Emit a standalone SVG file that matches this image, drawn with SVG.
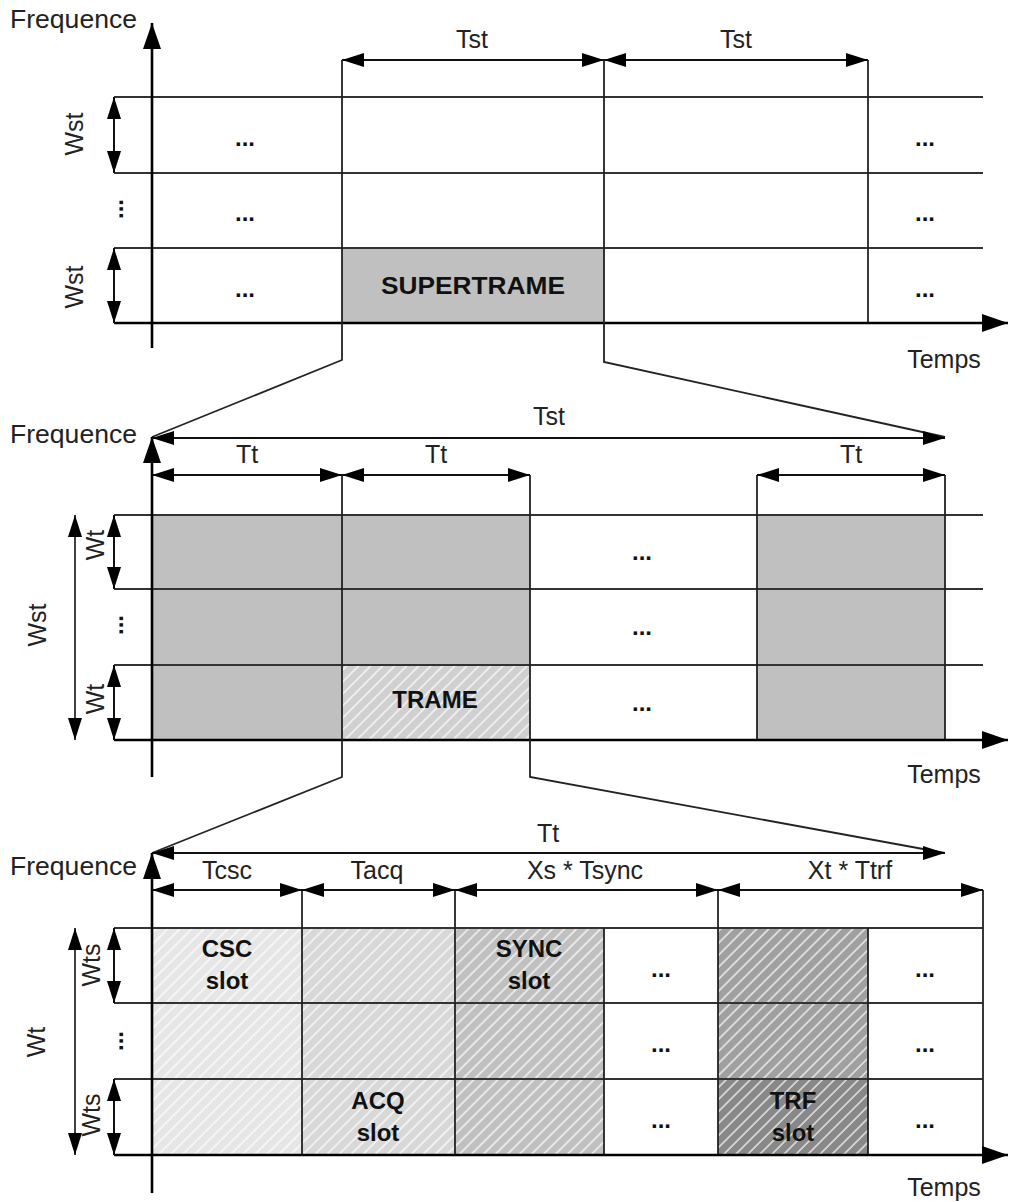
<svg xmlns="http://www.w3.org/2000/svg" width="1010" height="1202" viewBox="0 0 1010 1202">
<style>
  text { font-family: "Liberation Sans", Arial, sans-serif; fill: #222; }
  .lbl { font-size: 25px; }
  .mid { text-anchor: middle; }
  .b { font-size: 24px; font-weight: bold; fill: #111; text-anchor: middle; }
  .dots { font-size: 24px; font-weight: bold; fill: #111; text-anchor: middle; }
  .grid { stroke: #333; stroke-width: 2; fill: none; }
  .axis { stroke: #000; stroke-width: 2.6; fill: none; marker-end: url(#axhead); }
  .vl { stroke: #222; stroke-width: 1.8; fill: none; }
  .dim { stroke: #111; stroke-width: 2; fill: none; marker-start: url(#ah); marker-end: url(#ah); }
  .dimthin { stroke: #111; stroke-width: 1.6; fill: none; marker-start: url(#ah); marker-end: url(#ah); }
</style>
<defs>
  <marker id="ah" viewBox="0 0 22 14" refX="22" refY="7" markerWidth="22" markerHeight="14" markerUnits="userSpaceOnUse" orient="auto-start-reverse">
    <path d="M0,0 L22,7 L0,14 Z" fill="#000"/>
  </marker>
  <marker id="axhead" viewBox="0 0 26 18" refX="26" refY="9" markerWidth="26" markerHeight="18" markerUnits="userSpaceOnUse" orient="auto">
    <path d="M0,0 L26,9 L0,18 Z" fill="#000"/>
  </marker>
  <pattern id="hatch" patternUnits="userSpaceOnUse" width="8.5" height="8.5" patternTransform="rotate(45)">
    <line x1="2" y1="0" x2="2" y2="8.5" stroke="#fff" stroke-width="1.6" stroke-opacity="0.75"/>
  </pattern>
</defs>
<rect width="1010" height="1202" fill="#fff"/>

<!-- ===== Level 1 : supertrames ===== -->
<g id="supertrames">
  <g id="supertrame-cell">
    <rect x="342" y="248" width="262" height="75" fill="#c0c0c0"/>
    <text class="b" x="473" y="294" font-size="25" textLength="184" lengthAdjust="spacingAndGlyphs">SUPERTRAME</text>
  </g>
  <g id="grid-1">
    <line class="grid" x1="114" y1="97" x2="983" y2="97"/>
    <line class="grid" x1="114" y1="173" x2="983" y2="173"/>
    <line class="grid" x1="114" y1="248" x2="983" y2="248"/>
    <line class="vl" x1="868" y1="60" x2="868" y2="323"/>
  </g>
  <g id="dots-1">
    <text class="dots" x="245" y="146">...</text>
    <text class="dots" x="245" y="221">...</text>
    <text class="dots" x="245" y="297">...</text>
    <text class="dots" x="925" y="146">...</text>
    <text class="dots" x="925" y="221">...</text>
    <text class="dots" x="925" y="297">...</text>
    <text class="dots" transform="translate(123,209) rotate(-90)">...</text>
  </g>
  <g id="axes-1">
    <line class="axis" x1="152" y1="348" x2="152" y2="23"/>
    <line class="axis" x1="114" y1="323" x2="1008" y2="323"/>
    <text class="lbl" x="10" y="28" textLength="127" lengthAdjust="spacingAndGlyphs">Frequence</text>
    <text class="lbl mid" x="944" y="368">Temps</text>
  </g>
  <g id="labels-1">
    <text class="lbl mid" x="472" y="48">Tst</text>
    <text class="lbl mid" x="736" y="48">Tst</text>
    <text class="lbl mid" transform="translate(83,134) rotate(-90)">Wst</text>
    <text class="lbl mid" transform="translate(83,287) rotate(-90)">Wst</text>
  </g>
</g>

<!-- ===== Level 2 : trames ===== -->
<g id="trames">
  <g id="trame-fills">
    <rect x="152" y="515" width="378" height="225" fill="#c0c0c0"/>
    <rect x="757" y="515" width="188" height="225" fill="#c0c0c0"/>
  </g>
  <g id="trame-cell">
    <rect x="342" y="665" width="188" height="75" fill="#d0d0d0"/>
    <rect x="342" y="665" width="188" height="75" fill="url(#hatch)"/>
    <text class="b" x="435" y="708" font-size="25">TRAME</text>
  </g>
  <g id="grid-2">
    <line class="grid" x1="114" y1="515" x2="983" y2="515"/>
    <line class="grid" x1="114" y1="589" x2="983" y2="589"/>
    <line class="grid" x1="114" y1="665" x2="983" y2="665"/>
    <line class="vl" x1="757" y1="475" x2="757" y2="740"/>
    <line class="vl" x1="945" y1="475" x2="945" y2="740"/>
  </g>
  <g id="dots-2">
    <text class="dots" x="642" y="560">...</text>
    <text class="dots" x="642" y="635">...</text>
    <text class="dots" x="642" y="711">...</text>
    <text class="dots" transform="translate(123,625) rotate(-90)">...</text>
  </g>
  <g id="axes-2">
    <line class="axis" x1="152" y1="777" x2="152" y2="437"/>
    <line class="axis" x1="114" y1="740" x2="1008" y2="740"/>
    <text class="lbl" x="10" y="443" textLength="127" lengthAdjust="spacingAndGlyphs">Frequence</text>
    <text class="lbl mid" x="944" y="783">Temps</text>
  </g>
  <g id="labels-2">
    <text class="lbl mid" x="549" y="425">Tst</text>
    <text class="lbl mid" x="247" y="463">Tt</text>
    <text class="lbl mid" x="436" y="463">Tt</text>
    <text class="lbl mid" x="851" y="463">Tt</text>
    <text class="lbl mid" transform="translate(46,625) rotate(-90)">Wst</text>
    <text class="lbl mid" transform="translate(104,545) rotate(-90)">Wt</text>
    <text class="lbl mid" transform="translate(104,699) rotate(-90)">Wt</text>
  </g>
</g>

<!-- ===== Level 3 : slots ===== -->
<g id="slots">
  <g id="slot-fills">
    <rect x="152" y="928" width="150" height="227" fill="#e6e6e6"/>
    <rect x="302" y="928" width="153" height="227" fill="#d8d8d8"/>
    <rect x="455" y="928" width="149" height="227" fill="#c0c0c0"/>
    <rect x="718" y="928" width="150" height="151" fill="#a0a0a0"/>
    <rect x="718" y="1079" width="150" height="76" fill="#888"/>
    <rect x="152" y="928" width="452" height="227" fill="url(#hatch)"/>
    <rect x="718" y="928" width="150" height="227" fill="url(#hatch)"/>
  </g>
  <g id="csc-slot">
    <text class="b" x="227" y="957">CSC</text>
    <text class="b" x="227" y="989">slot</text>
  </g>
  <g id="acq-slot">
    <text class="b" x="378" y="1109">ACQ</text>
    <text class="b" x="378" y="1141">slot</text>
  </g>
  <g id="sync-slot">
    <text class="b" x="529" y="957">SYNC</text>
    <text class="b" x="529" y="989">slot</text>
  </g>
  <g id="trf-slot">
    <text class="b" x="793" y="1109">TRF</text>
    <text class="b" x="793" y="1141">slot</text>
  </g>
  <g id="grid-3">
    <line class="grid" x1="114" y1="928" x2="983" y2="928"/>
    <line class="grid" x1="114" y1="1003" x2="983" y2="1003"/>
    <line class="grid" x1="114" y1="1079" x2="983" y2="1079"/>
    <line class="vl" x1="302" y1="890" x2="302" y2="1155"/>
    <line class="vl" x1="455" y1="890" x2="455" y2="1155"/>
    <line class="vl" x1="718" y1="890" x2="718" y2="1155"/>
    <line class="vl" x1="983" y1="890" x2="983" y2="1155"/>
    <line class="vl" x1="604" y1="928" x2="604" y2="1155"/>
    <line class="vl" x1="868" y1="928" x2="868" y2="1155"/>
  </g>
  <g id="dots-3">
    <text class="dots" x="661" y="977">...</text>
    <text class="dots" x="661" y="1052">...</text>
    <text class="dots" x="661" y="1128">...</text>
    <text class="dots" x="925" y="977">...</text>
    <text class="dots" x="925" y="1052">...</text>
    <text class="dots" x="925" y="1128">...</text>
    <text class="dots" transform="translate(123,1041) rotate(-90)">...</text>
  </g>
  <g id="axes-3">
    <line class="axis" x1="152" y1="1193" x2="152" y2="853"/>
    <line class="axis" x1="114" y1="1155" x2="1008" y2="1155"/>
    <text class="lbl" x="10" y="875" textLength="127" lengthAdjust="spacingAndGlyphs">Frequence</text>
    <text class="lbl mid" x="944" y="1196">Temps</text>
  </g>
  <g id="labels-3">
    <text class="lbl mid" x="548" y="842">Tt</text>
    <text class="lbl mid" x="227" y="879">Tcsc</text>
    <text class="lbl mid" x="377" y="879">Tacq</text>
    <text class="lbl mid" x="585" y="879">Xs * Tsync</text>
    <text class="lbl mid" x="850" y="879">Xt * Ttrf</text>
    <text class="lbl mid" transform="translate(45,1042) rotate(-90)">Wt</text>
    <text class="lbl mid" transform="translate(100,965) rotate(-90)">Wts</text>
    <text class="lbl mid" transform="translate(100,1115) rotate(-90)">Wts</text>
  </g>
</g>

<!-- connectors: dimension arrows and zoom lines -->
<g id="connectors">
  <!-- level 1 -->
  <line class="dim" x1="342" y1="60" x2="604" y2="60"/>
  <line class="dim" x1="604" y1="60" x2="868" y2="60"/>
  <line class="dim" x1="114" y1="97" x2="114" y2="173"/>
  <line class="dim" x1="114" y1="248" x2="114" y2="323"/>
  <polyline class="vl" points="342,60 342,360 152,437"/>
  <polyline class="vl" points="604,60 604,362 945,437"/>
  <!-- level 2 -->
  <line class="dim" x1="152" y1="438" x2="945" y2="438"/>
  <line class="dim" x1="152" y1="475" x2="342" y2="475"/>
  <line class="dim" x1="342" y1="475" x2="530" y2="475"/>
  <line class="dim" x1="757" y1="475" x2="945" y2="475"/>
  <line class="dimthin" x1="75" y1="515" x2="75" y2="740"/>
  <line class="dim" x1="114" y1="515" x2="114" y2="589"/>
  <line class="dim" x1="114" y1="665" x2="114" y2="740"/>
  <polyline class="vl" points="342,475 342,777 152,853"/>
  <polyline class="vl" points="530,475 530,777 945,853"/>
  <!-- level 3 -->
  <line class="dim" x1="152" y1="853" x2="945" y2="853"/>
  <line class="dim" x1="152" y1="890" x2="302" y2="890"/>
  <line class="dim" x1="302" y1="890" x2="455" y2="890"/>
  <line class="dim" x1="455" y1="890" x2="718" y2="890"/>
  <line class="dim" x1="718" y1="890" x2="983" y2="890"/>
  <line class="dimthin" x1="75" y1="928" x2="75" y2="1155"/>
  <line class="dim" x1="114" y1="928" x2="114" y2="1003"/>
  <line class="dim" x1="114" y1="1079" x2="114" y2="1155"/>
</g>
</svg>
